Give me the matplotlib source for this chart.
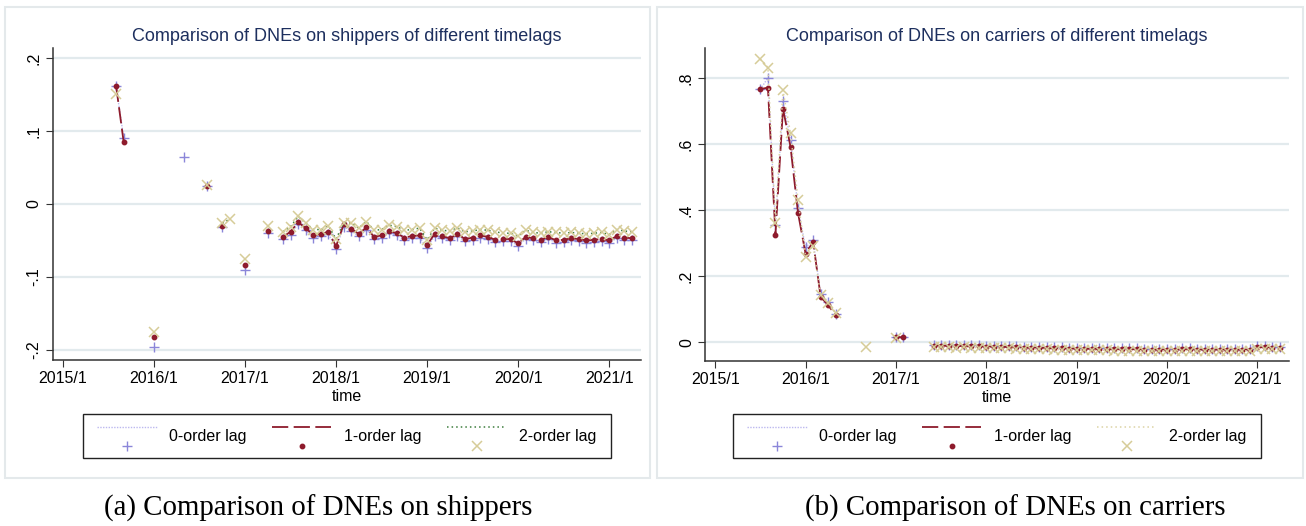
import matplotlib
matplotlib.use("Agg")
import matplotlib.pyplot as plt
import numpy as np
import pandas as pd
from matplotlib.lines import Line2D
from matplotlib.legend_handler import HandlerBase
from matplotlib.patches import Rectangle

nan = np.nan

# monthly time axis, 2015/7 .. 2021/4
months = pd.period_range("2015-07", "2021-04", freq="M")

# ---- shippers (left panel) ----
ship_lag0 = [nan, 0.161, 0.091, nan, nan, nan, -0.196, nan, nan, nan, 0.065, nan,
             nan, 0.025, nan, -0.031, nan, nan, -0.090, nan, nan, -0.040, nan,
             -0.048, -0.042, -0.028, -0.036, -0.047, -0.044, -0.041,
             -0.061, -0.031, -0.037, -0.044, -0.035, -0.048, -0.046, -0.040, -0.043, -0.049, -0.047, -0.046,
             -0.060, -0.044, -0.047, -0.050, -0.044, -0.051, -0.049, -0.046, -0.048, -0.052, -0.051, -0.051,
             -0.057, -0.048, -0.050, -0.052, -0.048, -0.053, -0.052, -0.050, -0.051, -0.053, -0.052, -0.051,
             -0.053, -0.047, -0.049, -0.050]
ship_lag1 = [nan, 0.162, 0.085, nan, nan, nan, -0.182, nan, nan, nan, nan, nan,
             nan, 0.025, nan, -0.030, nan, nan, -0.084, nan, nan, -0.037, nan,
             -0.045, -0.038, -0.025, -0.033, -0.043, -0.041, -0.038,
             -0.058, -0.028, -0.034, -0.041, -0.032, -0.045, -0.043, -0.037, -0.040, -0.046, -0.044, -0.043,
             -0.056, -0.041, -0.044, -0.047, -0.041, -0.048, -0.046, -0.043, -0.045, -0.049, -0.048, -0.048,
             -0.054, -0.045, -0.047, -0.049, -0.045, -0.050, -0.049, -0.047, -0.048, -0.050, -0.049, -0.048,
             -0.050, -0.044, -0.046, -0.047]
ship_lag2 = [nan, 0.151, nan, nan, nan, nan, -0.176, nan, nan, nan, nan, nan,
             nan, 0.026, nan, -0.026, -0.021, nan, -0.076, nan, nan, -0.030, nan,
             -0.038, -0.031, -0.017, -0.026, -0.035, -0.035, -0.030,
             -0.048, -0.026, -0.026, -0.033, -0.024, -0.036, -0.035, -0.029, -0.031, -0.036, -0.035, -0.033,
             -0.049, -0.033, -0.036, -0.037, -0.033, -0.038, -0.037, -0.035, -0.036, -0.038, -0.040, -0.040,
             -0.044, -0.036, -0.039, -0.040, -0.038, -0.039, -0.040, -0.039, -0.040, -0.041, -0.040, -0.039,
             -0.042, -0.035, -0.037, -0.038]

# ---- carriers (right panel) ----
carr_lag0 = [0.765, 0.800, 0.355, 0.730, 0.612, 0.405, 0.287, 0.309, 0.146, 0.123, 0.086, nan,
             nan, nan, nan, nan, nan, nan, 0.017, 0.016, nan, nan, nan,
             -0.007, -0.007, -0.008, -0.009, -0.008, -0.009, -0.009,
             -0.010, -0.010, -0.011, -0.011, -0.012, -0.013, -0.013, -0.014, -0.014, -0.015, -0.015, -0.016,
             -0.016, -0.016, -0.017, -0.017, -0.017, -0.018, -0.018, -0.018, -0.018, -0.019, -0.019, -0.019,
             -0.019, -0.019, -0.018, -0.018, -0.019, -0.019, -0.019, -0.019, -0.019, -0.019, -0.019, -0.019,
             -0.012, -0.012, -0.013, -0.013]
carr_lag1 = [0.766, 0.770, 0.326, 0.707, 0.591, 0.391, 0.268, 0.304, 0.138, 0.112, 0.082, nan,
             nan, nan, nan, nan, nan, nan, 0.016, 0.015, nan, nan, nan,
             -0.010, -0.010, -0.011, -0.012, -0.011, -0.012, -0.012,
             -0.013, -0.013, -0.014, -0.014, -0.015, -0.016, -0.016, -0.017, -0.017, -0.018, -0.018, -0.019,
             -0.019, -0.019, -0.020, -0.020, -0.020, -0.021, -0.021, -0.021, -0.021, -0.022, -0.022, -0.022,
             -0.022, -0.022, -0.021, -0.021, -0.022, -0.022, -0.022, -0.022, -0.022, -0.022, -0.022, -0.022,
             -0.015, -0.015, -0.016, -0.016]
carr_lag2 = [0.856, 0.831, 0.362, 0.762, 0.632, 0.430, 0.259, 0.292, 0.142, 0.118, 0.090, nan,
             nan, nan, -0.015, nan, nan, nan, 0.013, nan, nan, nan, nan,
             -0.014, -0.014, -0.015, -0.016, -0.015, -0.016, -0.016,
             -0.017, -0.017, -0.018, -0.018, -0.019, -0.020, -0.020, -0.021, -0.021, -0.022, -0.022, -0.023,
             -0.023, -0.023, -0.024, -0.024, -0.024, -0.025, -0.025, -0.025, -0.025, -0.026, -0.026, -0.026,
             -0.026, -0.026, -0.025, -0.025, -0.026, -0.026, -0.026, -0.026, -0.026, -0.026, -0.026, -0.026,
             -0.019, -0.019, -0.020, -0.020]

lag_labels = ["0-order lag", "1-order lag", "2-order lag"]
year_ticks = [2015, 2016, 2017, 2018, 2019, 2020, 2021]
year_labels = ["2015/1", "2016/1", "2017/1", "2018/1", "2019/1", "2020/1", "2021/1"]

plt.rcParams["font.family"] = ["Liberation Sans", "DejaVu Sans"]

C0 = "#8b86d9"
C0_LINE = "#bcb8ef"
C1 = "#8e1b2c"
C2 = "#d6cc98"
TITLE_C = "#1d2f5e"
GRID_C = "#e2eaed"


class LineOverMarker(HandlerBase):
    # stata-like legend key: line on top, marker below it
    def create_artists(self, legend, orig, xd, yd, w, h, fs, trans):
        ln = Line2D([-xd, -xd + w], [h * 1.25 - yd] * 2)
        ln.update_from(orig)
        ln.set_marker("None")
        mk = Line2D([-xd + w / 2], [-h * 0.45 - yd])
        mk.update_from(orig)
        mk.set_linestyle("None")
        for a in (ln, mk):
            a.set_clip_on(False)
            a.set_clip_box(None)
            a.set_transform(trans)
        return [ln, mk]


def panel(ax, series, title, yticks, ylabels, ylim, line2_color, legend_x):
    x = months.year + (months.month - 1) / 12.0
    s0, s1, s2 = series
    h0, = ax.plot(x, s0, color=C0_LINE, linestyle=(0, (1, 1)), lw=1.0,
                  marker="+", ms=6.5, mew=1.0, mec=C0, mfc=C0)
    h1, = ax.plot(x, s1, color=C1, linestyle=(0, (9, 3)), lw=1.3,
                  marker="o", ms=3.2, mec=C1, mfc=C1)
    h2, = ax.plot(x, s2, color=line2_color, linestyle=(0, (1, 2)), lw=1.1,
                  marker="x", ms=6.5, mew=1.1, mec=C2, mfc=C2)

    ax.set_xlim(2014.887, 2021.35)
    ax.set_ylim(*ylim)
    ax.set_xticks(year_ticks)
    ax.set_xticklabels(year_labels, fontsize=11.5)
    ax.set_yticks(yticks)
    ax.set_yticklabels(ylabels, fontsize=11.5, rotation=90, va="center")
    ax.set_xlabel("time", fontsize=11.5, labelpad=2)
    ax.set_title(title, fontsize=13, color=TITLE_C, pad=5)
    ax.yaxis.grid(True, color=GRID_C, lw=1.6)
    ax.set_axisbelow(True)
    for s in ["top", "right"]:
        ax.spines[s].set_visible(False)
    for s in ["left", "bottom"]:
        ax.spines[s].set_color("#333333")
        ax.spines[s].set_linewidth(1.1)
    ax.tick_params(axis="both", length=5, color="#333333", pad=3)

    leg = ax.legend([h0, h1, h2], lag_labels, ncol=3, loc="center",
                    bbox_to_anchor=(legend_x, 1 - 436 / 526),
                    bbox_transform=fig.transFigure,
                    handler_map={Line2D: LineOverMarker()},
                    fontsize=11.5, handlelength=3.7, handletextpad=0.8,
                    columnspacing=1.6, borderpad=0.9, fancybox=False,
                    edgecolor="#222222", framealpha=1)
    leg.get_frame().set_linewidth(1.0)


fig = plt.figure(figsize=(13.06, 5.26), dpi=100)

# light panel frames
for x0, x1 in [(5, 650), (657, 1303)]:
    fig.patches.append(Rectangle((x0 / 1306, 1 - 478 / 526), (x1 - x0) / 1306, 471 / 526,
                                 transform=fig.transFigure, fill=False,
                                 edgecolor="#e4e9eb", lw=1.5))

axL = fig.add_axes([52.7 / 1306, 1 - 360 / 526, (641 - 52.7) / 1306, 312 / 526])
axR = fig.add_axes([705 / 1306, 1 - 361 / 526, (1289 - 705) / 1306, 313 / 526])

panel(axL, (ship_lag0, ship_lag1, ship_lag2),
      "Comparison of DNEs on shippers of different timelags",
      [-0.2, -0.1, 0, 0.1, 0.2], ["-.2", "-.1", "0", ".1", ".2"],
      (-0.2137, 0.2137), "#3d7d3d", 347 / 1306)
panel(axR, (carr_lag0, carr_lag1, carr_lag2),
      "Comparison of DNEs on carriers of different timelags",
      [0, 0.2, 0.4, 0.6, 0.8], ["0", ".2", ".4", ".6", ".8"],
      (-0.0565, 0.89), "#dcd3a4", 997 / 1306)

cap_font = ["Liberation Serif", "DejaVu Serif"]
fig.text(318 / 1306, 1 - 508 / 526, "(a) Comparison of DNEs on shippers",
         family=cap_font, fontsize=20.8, ha="center", va="center")
fig.text(1015 / 1306, 1 - 508 / 526, "(b) Comparison of DNEs on carriers",
         family=cap_font, fontsize=20.8, ha="center", va="center")

fig.savefig("out.png", dpi=100)
